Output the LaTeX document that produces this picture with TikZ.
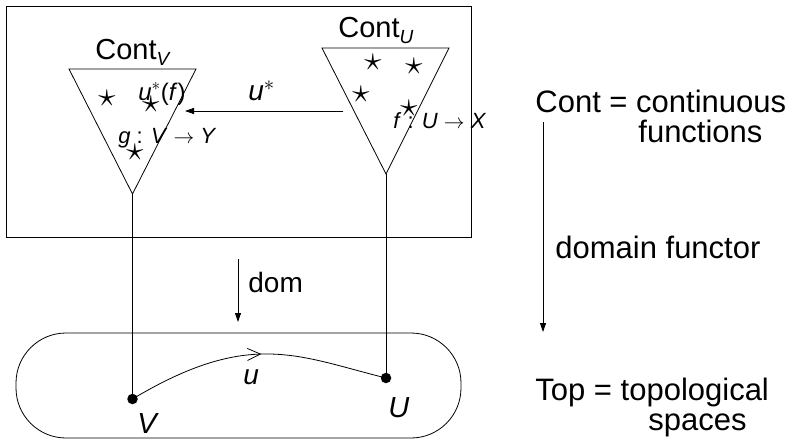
\documentclass[tikz,border=0pt]{standalone}
\usepackage{fontspec}
\setmainfont{Liberation Sans}
\usetikzlibrary{arrows.meta,decorations.markings}
\newcommand{\vi}[1]{\textit{#1}}
\newcommand{\subx}[1]{\raisebox{-6pt}{\fontsize{19}{19}\selectfont\vi{#1}}}
\newcommand{\bigstar}{\scalebox{1.4}{$\star$}}
\begin{document}
\begin{tikzpicture}[x=1pt,y=-1pt,line width=0.8pt,
  lbl/.style={inner sep=0pt,anchor=base west,font=\fontsize{29}{33}\selectfont},
  big/.style={inner sep=0pt,anchor=base west,font=\fontsize{31}{36}\selectfont},
  sm/.style={inner sep=0pt,anchor=base west,font=\fontsize{22}{26}\selectfont},
  mid/.style={inner sep=0pt,anchor=base west,font=\fontsize{28}{32}\selectfont},
  dot/.style={circle,fill,inner sep=0pt,minimum size=10.5pt},
  tip/.style={-{Triangle[length=9pt,width=6pt]}},
  starn/.style={inner sep=0pt,font=\fontsize{24}{24}\selectfont}]
\useasboundingbox (0,0) rectangle (795,439);
% category boxes
\node[draw,inner sep=0pt,minimum width=465pt,minimum height=231pt] (cont) at (238.5,121.5) {};
\node[draw,inner sep=0pt,rounded corners=50pt,minimum width=445pt,minimum height=105pt] (top) at (238.5,385.5) {};
% triangles
\coordinate (lv1) at (69,69);
\coordinate (lv2) at (196,69);
\coordinate (lva) at (132.5,194);
\coordinate (ru1) at (322,48);
\coordinate (ru2) at (449,48);
\coordinate (rua) at (386,174);
\draw (lv1) -- (lv2) -- (lva) -- cycle;
\draw (ru1) -- (ru2) -- (rua) -- cycle;
% points
\node[dot] (V) at (132.5,399) {};
\node[dot] (U) at (386,378) {};
\draw (lva) -- (V.center);
\draw (rua) -- (U.center);
% curve u
\draw[postaction={decorate},decoration={markings,mark=at position 0.52 with {\arrow{Straight Barb[length=13pt,width=12pt]}}}]
  (V.center) .. controls (249.5,329) and (297.5,356) .. (U.center);
% stars
\node[starn] (s1) at (107,98) {\bigstar};
\node[starn] (s2) at (151,104) {\bigstar};
\node[starn] (s3) at (135,152) {\bigstar};
\node[starn] (s4) at (373,62) {\bigstar};
\node[starn] (s5) at (414,66) {\bigstar};
\node[starn] (s6) at (361,94) {\bigstar};
\node[starn] (s7) at (409,108) {\bigstar};
% arrows
\coordinate (us) at (343,111);
\coordinate (ue) at (185,111);
\draw[tip] (us) -- (ue);
\coordinate (ds) at (238,259);
\coordinate (de) at (238,322);
\draw[tip] (ds) -- (de);
\coordinate (rs) at (543,122);
\coordinate (re) at (543,332);
\draw[tip] (rs) -- (re);
% labels
\node[lbl] (lcv) at (95,59) {Cont\subx{V}};
\node[lbl] (lcu) at (338,37) {Cont\subx{U}};
\node[sm,font=\fontsize{24}{28}\selectfont] (luf) at (138,100) {\vi{u}$^*$(\vi{f})};
\node[sm] (lg) at (118,143) {\vi{g} : \vi{V} $\rightarrow$ \vi{Y}};
\node[sm] (lf) at (393,128) {\vi{f} : \vi{U} $\rightarrow$ \vi{X}};
\node[mid] (lus) at (248,100) {\vi{u}$^*$};
\node[inner sep=0pt,anchor=base west,font=\fontsize{28}{33}\selectfont] (ldom) at (248,292) {dom};
\node[mid] (lu) at (243,384) {\vi{u}};
\node[lbl] (lV) at (137,433) {\vi{V}};
\node[lbl] (lU) at (388,417) {\vi{U}};
\node[big] (r1) at (535,112) {Cont = continuous};
\node[big] (r2) at (638,142) {functions};
\node[big] (r3) at (555,258) {domain functor};
\node[big] (r4) at (535,400) {Top = topological};
\node[big] (r5) at (648,430) {spaces};
\end{tikzpicture}
\end{document}
